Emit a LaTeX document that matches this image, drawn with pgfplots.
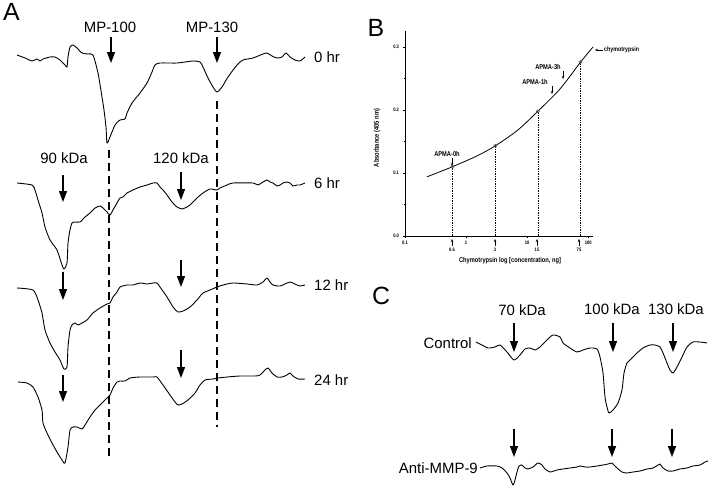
\documentclass[border=0pt]{standalone}
\usepackage{fontspec}
\setmainfont{Liberation Sans}
\newfontfamily\narrowfont[FakeStretch=0.82]{Liberation Sans}
\usepackage{pgfplots}
\pgfplotsset{compat=1.18}
\usetikzlibrary{arrows.meta}
\begin{document}
\begin{tikzpicture}
\tikzset{
  trace/.style={black, line width=0.9pt, line join=round, no markers},
  bigarrow/.style={line width=1.3pt, -{Triangle[width=8pt,length=11pt]}},
  smallarrow/.style={line width=0.5pt, -{Stealth[width=2.5pt,length=3pt]}},
  lab/.style={font=\fontsize{15}{17}\selectfont, inner sep=0pt},
  panel/.style={font=\fontsize{25}{28}\selectfont, inner sep=0pt},
  blab/.style={font=\narrowfont\bfseries\fontsize{7}{8}\selectfont, inner sep=0pt},
  btick/.style={font=\narrowfont\bfseries\fontsize{5}{6}\selectfont, inner sep=0pt},
}
% ---------------- main frame (pixel coordinates) ----------------
\begin{axis}[name=main, at={(0,0)}, anchor=south west,
  width=720bp, height=492bp, scale only axis,
  xmin=0, xmax=720, ymin=0, ymax=492, y dir=reverse,
  hide axis, clip=false]
% ---- Panel A traces ----
\addplot[trace, smooth, tension=0.4] coordinates {
(17,55) (25,58) (32,61) (37,59) (40,61) (43,59) (50,57) (55,57) (60,60) (65,65) (67,67) (68,57) (70,47) (73,45) (77,48) (82,53) (88,54) (93,55)
(98,73) (102,97) (104,110) (106,127) (107,143) (110,137) (115,125) (120,120) (125,119) (127,113) (132,103) (140,93) (147,83) (152,72) (155,65)
(160,63) (177,63) (193,61) (200,62) (203,67) (208,78) (213,87) (217,92) (222,87) (228,77) (237,65) (243,60) (253,58) (263,54) (267,53)
(272,56) (277,58) (282,57) (286,53) (290,57) (295,60) (300,61) (305,57)};
\addplot[trace, smooth, tension=0.4] coordinates {
(17,183) (32,185) (35,190) (38,200) (42,213) (45,227) (50,240) (57,250) (62,265) (64,269) (67,263) (68,243) (70,230) (72,223) (75,222) (80,222)
(85,217) (90,213) (95,208) (100,206) (103,208) (107,212) (110,215) (113,210) (117,203) (120,198) (123,197) (127,193) (133,190) (140,187) (147,185)
(153,183) (157,183) (160,187) (163,190) (167,195) (172,202) (177,207) (182,209) (185,208) (190,205) (197,198) (203,193) (210,189) (217,190)
(220,188) (227,185) (233,183) (253,183) (258,185) (263,182) (267,180) (270,182) (273,183) (277,186) (280,185) (283,183) (287,182) (290,183)
(293,186) (297,185) (300,185) (305,183)};
\addplot[trace, smooth, tension=0.4] coordinates {
(17,288) (33,290) (38,300) (42,313) (45,330) (50,343) (55,352) (60,360) (64,369) (67,367) (68,347) (70,330) (72,325) (75,323) (78,325) (82,323)
(87,320) (93,313) (100,308) (107,304) (110,303) (113,297) (117,292) (120,287) (127,285) (133,285) (140,283) (147,284) (153,283) (157,283)
(160,287) (167,297) (173,307) (178,312) (183,311) (190,307) (197,300) (203,293) (210,290) (217,287) (223,285) (233,283) (247,284) (257,285)
(263,282) (267,278) (270,282) (273,285) (280,286) (287,283) (290,282) (293,283) (297,285) (300,286) (305,285)};
\addplot[trace, smooth, tension=0.4] coordinates {
(18,382) (27,383) (33,387) (38,397) (42,410) (43,423) (47,433) (52,443) (57,452) (62,460) (65,463) (68,447) (70,430) (73,427) (77,427) (82,429)
(85,425) (90,417) (95,410) (100,405) (105,400) (110,395) (113,388) (117,382) (120,381) (125,381) (130,378) (140,377) (153,377) (157,377)
(163,385) (170,395) (175,402) (178,405) (182,404) (188,400) (195,393) (200,385) (205,380) (213,379) (218,378) (227,377) (240,376) (255,376)
(260,375) (265,370) (268,368) (272,373) (277,377) (282,377) (287,375) (290,373) (293,376) (298,379) (305,379)};
% dashed guides
\addplot[black, line width=1.1pt, dash pattern=on 8pt off 5pt, no markers] coordinates {(109,150) (109,460)};
\addplot[black, line width=1.1pt, dash pattern=on 8pt off 5pt, no markers] coordinates {(217,101) (217,427)};
% ---- Panel C traces ----
\addplot[trace, smooth, tension=0.4] coordinates {
(476,342) (482,345) (488,348) (495,347) (500,345) (507,352) (514,360) (520,355) (525,349) (530,348) (535,350) (540,347) (547,340) (553,335)
(560,337) (563,343) (570,348) (577,352) (583,350) (590,348) (597,349) (600,357) (603,373) (605,397) (607,407) (609,413) (613,410) (618,403)
(622,390) (624,373) (627,363) (630,360) (637,353) (643,348) (650,345) (655,345) (660,347) (663,353) (667,363) (670,370) (673,373) (677,367)
(682,357) (687,347) (693,342) (700,342) (707,343)};
\addplot[trace, smooth, tension=0.4] coordinates {
(480,468) (487,466) (497,466) (502,468) (507,473) (510,478) (513,485) (515,480) (517,472) (519,466) (522,465) (525,468) (528,469) (533,467)
(538,463) (542,465) (545,469) (550,472) (557,470) (563,469) (570,468) (577,467) (580,466) (585,467) (590,467) (597,466) (603,465) (608,464)
(612,463) (613,464) (617,468) (622,472) (627,473) (633,472) (640,471) (647,469) (653,468) (658,465) (660,464) (663,468) (668,471) (673,471)
(680,469) (687,468) (693,466) (700,465) (705,462) (708,461)};
% ---- Panel A annotations ----
\node[panel, anchor=north west] at (axis cs:3,3) {A};
\node[lab] at (axis cs:110,27) {MP-100};
\node[lab] at (axis cs:212,27) {MP-130};
\node[lab] at (axis cs:64,158) {90 kDa};
\node[lab] at (axis cs:181,158) {120 kDa};
\draw[bigarrow] (axis cs:111,37) -- (axis cs:111,63);
\draw[bigarrow] (axis cs:217,37) -- (axis cs:217,63);
\draw[bigarrow] (axis cs:63,175) -- (axis cs:63,202);
\draw[bigarrow] (axis cs:181,172) -- (axis cs:181,200);
\draw[bigarrow] (axis cs:63,272) -- (axis cs:63,300);
\draw[bigarrow] (axis cs:181,260) -- (axis cs:181,287);
\draw[bigarrow] (axis cs:63,375) -- (axis cs:63,402);
\draw[bigarrow] (axis cs:181,350) -- (axis cs:181,378);
\node[lab, anchor=west] at (axis cs:314,57) {0 hr};
\node[lab, anchor=west] at (axis cs:314,183) {6 hr};
\node[lab, anchor=west] at (axis cs:314,285) {12 hr};
\node[lab, anchor=west] at (axis cs:314,380) {24 hr};
% ---- Panel C annotations ----
\node[panel] at (axis cs:381,296) {C};
\node[lab] at (axis cs:522,310) {70 kDa};
\node[lab] at (axis cs:612,309) {100 kDa};
\node[lab] at (axis cs:676,309) {130 kDa};
\node[lab, anchor=east] at (axis cs:472,343) {Control};
\node[lab, anchor=east] at (axis cs:478,468) {Anti-MMP-9};
\draw[bigarrow] (axis cs:514,323) -- (axis cs:514,352);
\draw[bigarrow] (axis cs:613,323) -- (axis cs:613,352);
\draw[bigarrow] (axis cs:673,323) -- (axis cs:673,352);
\draw[bigarrow] (axis cs:514,429) -- (axis cs:514,457);
\draw[bigarrow] (axis cs:612,429) -- (axis cs:612,457);
\draw[bigarrow] (axis cs:672,429) -- (axis cs:672,457);
% ---- Panel B annotations ----
\node[panel] at (axis cs:376,28) {B};
\node[blab, rotate=90] at (axis cs:377,138) {Absorbance (405 nm)};
\node[blab] at (axis cs:510,261) {Chymotrypsin log [concentration, ng]};
\node[blab] at (axis cs:447,154) {APMA-0h};
\draw[smallarrow] (axis cs:452,158) -- (axis cs:452,166);
\node[blab] at (axis cs:535,82) {APMA-1h};
\draw[smallarrow] (axis cs:552,86) -- (axis cs:552,94);
\node[blab] at (axis cs:548,67) {APMA-3h};
\draw[smallarrow] (axis cs:563,71) -- (axis cs:563,79);
\node[blab, font=\narrowfont\bfseries\fontsize{6.5}{7}\selectfont, anchor=west] at (axis cs:604,50) {chymotrypsin};
\draw[smallarrow] (axis cs:603,50) -- (axis cs:595,50);
\draw[smallarrow] (axis cs:452,246) -- (axis cs:452,239);
\draw[smallarrow] (axis cs:495,246) -- (axis cs:495,239);
\draw[smallarrow] (axis cs:537,246) -- (axis cs:537,239);
\draw[smallarrow] (axis cs:579,246) -- (axis cs:579,239);
\node[btick] at (axis cs:452,250) {0.6};
\node[btick] at (axis cs:495,250) {3};
\node[btick] at (axis cs:537,250) {15};
\node[btick] at (axis cs:579,250) {75};
\end{axis}
% ---------------- Panel B axis ----------------
\begin{axis}[at={(405bp,256bp)}, anchor=south west,
  width=188bp, height=204.75bp, scale only axis,
  xmode=log, log basis x=10,
  xmin=0.1, xmax=120, ymin=0, ymax=0.325,
  axis x line=bottom, axis y line=left,
  axis line style={-, line width=0.7pt},
  xtick={0.1,1,10,100}, xticklabels={0.1,1,10,100},
  ytick={0,0.1,0.2,0.3}, yticklabels={0.0,0.1,0.2,0.3},
  minor y tick num=1,
  tick align=outside,
  major tick length=2.5pt, minor tick length=1.5pt,
  tick style={line width=0.5pt, black},
  ticklabel style={font=\narrowfont\bfseries\fontsize{5}{6}\selectfont},
  xticklabel style={yshift=1pt},
  clip=false]
\addplot[black, line width=0.8pt, smooth, no markers] coordinates {
(0.23,0.094) (0.6,0.110) (1.5,0.127) (3,0.143) (7,0.168) (15,0.198) (35,0.234) (75,0.276) (120,0.300)};
\addplot[black, ycomb, densely dotted, line width=0.7pt, no markers] coordinates {
(0.6,0.110) (3,0.143) (15,0.198) (75,0.276)};
\addplot[only marks, mark=o, mark size=1.6pt, mark options={gray!70!black, line width=0.6pt}] coordinates {
(0.6,0.110) (3,0.143) (15,0.198) (75,0.276)};
\end{axis}
\pgfresetboundingbox
\useasboundingbox (0,0) rectangle (720bp,492bp);
\end{tikzpicture}
\end{document}
